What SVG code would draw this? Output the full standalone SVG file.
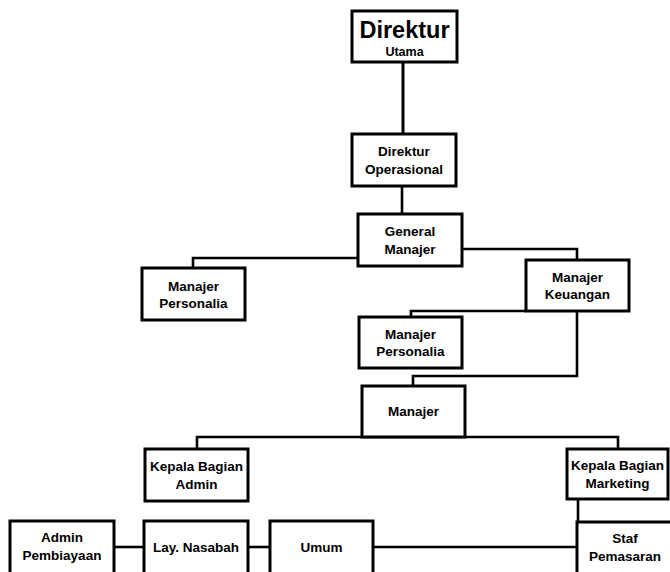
<svg xmlns="http://www.w3.org/2000/svg" width="670" height="572" viewBox="0 0 670 572">
<style>
.box{fill:#fff;stroke:#000;stroke-width:3}
.ln{fill:none;stroke:#000;stroke-width:2.6}
text{font-family:"Liberation Sans",Arial,sans-serif;font-weight:bold;font-size:13.5px;fill:#000;text-anchor:middle}
.big{font-size:23.5px}
.mid{font-size:12.5px}
</style>
<rect width="670" height="572" fill="#fff"/>
<g id="connectors">
<line class="ln" x1="403" y1="62" x2="403" y2="134" style="stroke-width:3"/>
<line class="ln" x1="402" y1="186" x2="402" y2="214"/>
<polyline class="ln" points="358,258 193,258 193,268"/>
<polyline class="ln" points="462,249 577,249 577,260"/>
<polyline class="ln" points="526,311 411,311 411,317"/>
<polyline class="ln" points="577,311 577,376 413,376 413,386"/>
<polyline class="ln" points="197,449 197,437 618,437 618,449"/>
<line class="ln" x1="578" y1="499" x2="578" y2="522"/>
<line class="ln" x1="114" y1="547" x2="144" y2="547"/>
<line class="ln" x1="248" y1="547" x2="270" y2="547"/>
<line class="ln" x1="373" y1="547" x2="577" y2="547"/>
</g>
<g id="direktur-utama">
<rect class="box" x="352" y="11" width="105" height="51"/>
<text class="big" x="404.5" y="38">Direktur</text>
<text class="mid" x="404.5" y="56">Utama</text>
</g>
<g id="direktur-operasional">
<rect class="box" x="352" y="134" width="104" height="52"/>
<text x="404" y="156">Direktur</text>
<text x="404" y="174">Operasional</text>
</g>
<g id="general-manajer">
<rect class="box" x="358" y="214" width="104" height="52"/>
<text x="410" y="236">General</text>
<text x="410" y="254">Manajer</text>
</g>
<g id="manajer-personalia-1">
<rect class="box" x="142" y="268" width="103" height="52"/>
<text x="193.5" y="291">Manajer</text>
<text x="193.5" y="308">Personalia</text>
</g>
<g id="manajer-keuangan">
<rect class="box" x="526" y="260" width="103" height="51"/>
<text x="577.5" y="282">Manajer</text>
<text x="577.5" y="299">Keuangan</text>
</g>
<g id="manajer-personalia-2">
<rect class="box" x="359" y="317" width="103" height="51"/>
<text x="410.5" y="339">Manajer</text>
<text x="410.5" y="356">Personalia</text>
</g>
<g id="manajer">
<rect class="box" x="362" y="386" width="103" height="51"/>
<text x="413.5" y="416">Manajer</text>
</g>
<g id="kepala-bagian-admin">
<rect class="box" x="145" y="449" width="103" height="52"/>
<text x="196.5" y="471">Kepala Bagian</text>
<text x="196.5" y="489">Admin</text>
</g>
<g id="kepala-bagian-marketing">
<rect class="box" x="567" y="449" width="101" height="50"/>
<text x="617.5" y="470">Kepala Bagian</text>
<text x="617.5" y="488">Marketing</text>
</g>
<g id="staf-pemasaran">
<rect class="box" x="577" y="522" width="98" height="53"/>
<text x="625" y="543">Staf</text>
<text x="625" y="561">Pemasaran</text>
</g>
<g id="admin-pembiayaan">
<rect class="box" x="10" y="521" width="104" height="54"/>
<text x="62" y="542">Admin</text>
<text x="62" y="560">Pembiayaan</text>
</g>
<g id="lay-nasabah">
<rect class="box" x="144" y="521" width="104" height="54"/>
<text x="196" y="552">Lay. Nasabah</text>
</g>
<g id="umum">
<rect class="box" x="270" y="521" width="103" height="54"/>
<text x="321.5" y="552">Umum</text>
</g>
</svg>
